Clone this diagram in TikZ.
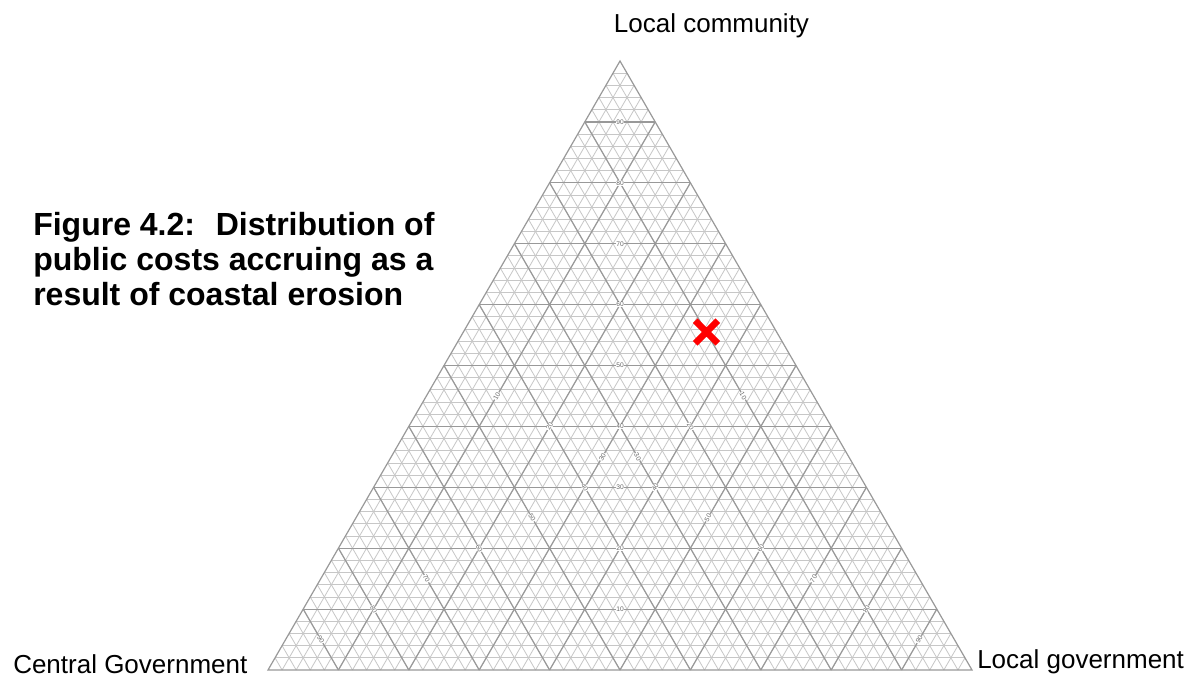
\documentclass[tikz,border=0pt]{standalone}
\usepackage{fontspec}
\setmainfont{Liberation Sans}
\usetikzlibrary{calc,shapes.misc}
\begin{document}
\begin{tikzpicture}[x=0.75pt,y=-0.75pt,
  fine/.style={black!22,line width=0.6pt},
  major/.style={black!40,line width=0.9pt},
  tick/.style={fill=white,text=black!60,inner sep=0.3pt,font=\fontsize{5}{5}\selectfont},
  corner/.style={inner sep=0pt,font=\fontsize{19.5}{23}\selectfont}]
  \useasboundingbox (0,0) rectangle (1192,679);
  \fill[white] (0,0) rectangle (1192,679);
  \coordinate (A) at (268,670);
  \coordinate (B) at (972,670);
  \coordinate (C) at (620,61);
  \coordinate (mAB) at ($(A)!0.5!(B)$);
  \coordinate (mBC) at ($(B)!0.5!(C)$);
  \coordinate (mCA) at ($(C)!0.5!(A)$);
  \foreach \i in {1,...,49}{
    \draw[fine] ($(A)!\i/50!(C)$) -- ($(B)!\i/50!(C)$);
    \draw[fine] ($(A)!\i/50!(B)$) -- ($(C)!\i/50!(B)$);
    \draw[fine] ($(B)!\i/50!(A)$) -- ($(C)!\i/50!(A)$);}
  \foreach \k in {1,...,9}{
    \draw[major] ($(A)!\k/10!(C)$) -- ($(B)!\k/10!(C)$);
    \draw[major] ($(A)!\k/10!(B)$) -- ($(C)!\k/10!(B)$);
    \draw[major] ($(B)!\k/10!(A)$) -- ($(C)!\k/10!(A)$);}
  \draw[major] (A) -- (B) -- (C) -- cycle;
  \foreach \k in {10,20,...,90}{
    \node[tick] at ($(mAB)!\k/100!(C)$) {\k};
    \node[tick,rotate=-60] at ($(mBC)!\k/100!(A)$) {\k};
    \node[tick,rotate=60] at ($(mCA)!\k/100!(B)$) {\k};}
  \node[cross out,draw=red,line width=5pt,minimum size=12pt,inner sep=0pt] (mark) at (706.5,332) {};
  \node[corner,anchor=base] (lc) at (711.5,32) {Local community};
  \node[corner,anchor=base west] (lg) at (977,668) {Local government};
  \node[corner,anchor=base west] (cg) at (13,673) {Central Government};
  \node[anchor=north west,inner sep=0pt,align=left,font=\bfseries\fontsize{24}{26.25}\selectfont] (title) at (33,212) {Figure 4.2:~ Distribution of\\public costs accruing as a\\result of coastal erosion};
\end{tikzpicture}
\end{document}
